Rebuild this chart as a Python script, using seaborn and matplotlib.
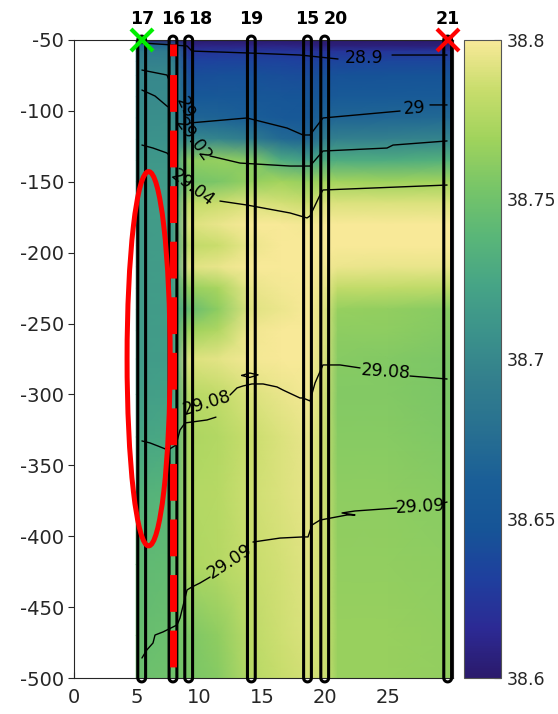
import numpy as np
import matplotlib
matplotlib.use("Agg")
import matplotlib.pyplot as plt
import matplotlib.patches as mpatches
from matplotlib.transforms import IdentityTransform, blended_transform_factory
import seaborn as sns

# ---------------------------------------------------------------- data
# along-section distance (km) of the gridded salinity columns
dist_km = [4.95, 7.88, 9.13, 11.5, 14.12, 16.5, 18.59, 19.96, 21.0, 25.0, 30.15]
# depth levels (m)
depth_m = [-50, -54, -58, -65, -75, -90, -105, -120, -135, -150, -165, -180,
           -195, -210, -225, -240, -255, -275, -300, -330, -370, -420, -470, -500]

# salinity profiles, one per column
sal_d05 = [38.600, 38.675, 38.690, 38.695, 38.700, 38.702, 38.705, 38.708, 38.712, 38.715, 38.716, 38.716,
           38.716, 38.716, 38.716, 38.716, 38.716, 38.716, 38.718, 38.724, 38.735, 38.742, 38.746, 38.748]
sal_d08 = [38.600, 38.672, 38.688, 38.694, 38.700, 38.703, 38.706, 38.709, 38.713, 38.716, 38.717, 38.717,
           38.717, 38.717, 38.717, 38.717, 38.717, 38.717, 38.720, 38.726, 38.737, 38.744, 38.748, 38.750]
sal_d09 = [38.600, 38.610, 38.622, 38.633, 38.642, 38.652, 38.668, 38.700, 38.762, 38.752, 38.782, 38.790,
           38.782, 38.792, 38.765, 38.745, 38.768, 38.790, 38.778, 38.774, 38.776, 38.774, 38.756, 38.754]
sal_d12 = [38.600, 38.610, 38.624, 38.634, 38.643, 38.653, 38.666, 38.698, 38.765, 38.755, 38.785, 38.795,
           38.785, 38.795, 38.772, 38.762, 38.775, 38.793, 38.782, 38.776, 38.778, 38.777, 38.763, 38.760]
sal_d14 = [38.600, 38.610, 38.625, 38.635, 38.644, 38.652, 38.662, 38.690, 38.760, 38.765, 38.790, 38.800,
           38.796, 38.800, 38.795, 38.792, 38.797, 38.798, 38.790, 38.785, 38.786, 38.784, 38.780, 38.778]
sal_d17 = [38.600, 38.610, 38.624, 38.634, 38.642, 38.650, 38.654, 38.672, 38.730, 38.770, 38.788, 38.800,
           38.800, 38.800, 38.798, 38.796, 38.800, 38.800, 38.795, 38.790, 38.790, 38.788, 38.786, 38.784]
sal_d19 = [38.600, 38.608, 38.622, 38.632, 38.640, 38.648, 38.652, 38.668, 38.720, 38.765, 38.785, 38.798,
           38.800, 38.800, 38.800, 38.800, 38.800, 38.800, 38.798, 38.795, 38.794, 38.792, 38.790, 38.788]
sal_d20 = [38.600, 38.606, 38.622, 38.634, 38.644, 38.654, 38.668, 38.692, 38.730, 38.770, 38.790, 38.800,
           38.800, 38.798, 38.795, 38.792, 38.792, 38.790, 38.788, 38.786, 38.786, 38.786, 38.786, 38.786]
sal_d21 = [38.600, 38.606, 38.623, 38.635, 38.645, 38.655, 38.668, 38.694, 38.730, 38.770, 38.790, 38.800,
           38.800, 38.796, 38.782, 38.765, 38.762, 38.760, 38.758, 38.760, 38.762, 38.764, 38.766, 38.766]
sal_d25 = [38.600, 38.606, 38.624, 38.636, 38.646, 38.656, 38.670, 38.695, 38.730, 38.768, 38.790, 38.800,
           38.800, 38.795, 38.782, 38.764, 38.762, 38.758, 38.758, 38.760, 38.762, 38.764, 38.766, 38.766]
sal_d30 = [38.600, 38.606, 38.624, 38.636, 38.646, 38.657, 38.672, 38.698, 38.735, 38.770, 38.790, 38.800,
           38.800, 38.795, 38.780, 38.760, 38.758, 38.755, 38.755, 38.757, 38.760, 38.762, 38.764, 38.764]

# isopycnal tracks (distance, depth); NaN leaves room for the inline labels
nan = np.nan
iso_2890_x = [5.41, 9.00, 9.39, 14.01, 17.99, 21.02, nan, 25.32, 29.70]
iso_2890_z = [-52.1, -54.2, -57.8, -59.2, -60.6, -63.4, nan, -60.6, -60.6]
iso_2900_x = [5.41, 7.40, 7.64, nan, 9.24, 13.77, 16.96, 18.23, 18.79, 19.82, 25.96, nan, 28.34, 29.70]
iso_2900_z = [-71.2, -74.7, -79.6, nan, -108.5, -105.0, -112.1, -117.0, -117.0, -105.0, -100.1, nan, -95.8, -95.8]
iso_2902_x = [5.41, 6.45, 7.40, 7.88, nan, 10.83, 13.22, 17.20, 18.79, 19.82, 24.92, 25.40, 29.70]
iso_2902_z = [-85.3, -89.5, -96.6, -99.4, nan, -131.8, -136.8, -138.9, -138.9, -128.3, -126.2, -124.1, -121.2]
iso_2904_x = [5.41, 6.29, 7.40, 7.80, nan, 11.62, 13.77, 17.20, 18.55, 18.79, 19.59, 19.82, 29.70]
iso_2904_z = [-124.1, -126.2, -129.7, -133.2, nan, -163.6, -166.4, -172.0, -175.5, -174.1, -159.3, -155.8, -152.3]
iso_2908_x = [5.41, 6.05, 6.69, 7.48, 8.12, 8.44, 8.84, 10.59, 11.30, nan, 12.42, 12.98, 13.46, 14.17, 15.05,
              16.16, 16.64, 17.99, 18.23, 18.79, 19.19, 19.82, 21.18, 22.77, nan, 26.75, 29.70]
iso_2908_z = [-332.8, -334.2, -336.4, -339.2, -335.7, -325.1, -320.1, -318.0, -316.0, nan, -300.4, -295.4, -294.0,
              -292.6, -292.6, -294.7, -296.9, -302.5, -302.5, -304.6, -291.9, -279.2, -279.2, -281.3, nan, -287.0, -289.1]
iso_2908_loop_x = [13.35, 14.0, 14.65, 14.0, 13.35]
iso_2908_loop_z = [-286.6, -284.9, -286.2, -288.0, -286.6]
iso_2909_x = [5.41, 5.79, 6.29, 6.45, 7.09, 8.20, 8.44, 8.60, 9.00, 9.39, 10.03, 10.83, nan, 14.25, 16.40, 18.23,
              18.63, 18.95, 19.59, 21.74, 22.37, 21.34, 22.37, 25.72, nan, 29.38, 29.70]
iso_2909_z = [-485.9, -480.3, -475.3, -469.7, -467.5, -462.6, -457.7, -452.0, -437.9, -435.8, -433.0, -428.8, nan,
              -404.1, -401.3, -400.5, -400.5, -392.1, -388.6, -385.0, -385.0, -383.6, -382.2, -380.1, nan, -376.6, -375.9]

# CTD stations
station_names = ["17", "16", "18", "19", "15", "20", "21"]
station_km = [5.39, 7.88, 9.13, 14.12, 18.59, 19.96, 29.75]

# axis / colour scale
xtick_vals = [0, 5, 10, 15, 20, 25]
ytick_vals = [-500, -450, -400, -350, -300, -250, -200, -150, -100, -50]
cbar_ticks = [38.6, 38.65, 38.7, 38.75, 38.8]
cbar_labels = ["38.6", "38.65", "38.7", "38.75", "38.8"]
sal_min, sal_max = 38.6, 38.8

# ---------------------------------------------------------------- style
sns.set_style("ticks")
plt.rcParams.update({
    "font.family": ["DejaVu Sans"],
    "axes.unicode_minus": False,
    "axes.edgecolor": "#262626",
    "axes.linewidth": 0.8,
})

haline = sns.blend_palette(
    ["#2b1a6c", "#2c2a94", "#1f3f9e", "#165497", "#1a5e97", "#276f91", "#327e8d",
     "#3b918b", "#46a486", "#59b678", "#77c568", "#a0d35c", "#c8dd6c", "#f8e998"],
    n_colors=256, as_cmap=True)

W, H = 558, 714
fig = plt.figure(figsize=(W / 100, H / 100), dpi=100)
ax = fig.add_axes([74 / W, 1 - 678 / H, (452.7 - 74) / W, (678 - 40) / H])
cax = fig.add_axes([464.3 / W, 1 - 678 / H, 36.4 / W, (678 - 40) / H])

# ---------------------------------------------------------------- salinity section
X, Z = np.meshgrid(dist_km, depth_m)
S = np.column_stack([sal_d05, sal_d08, sal_d09, sal_d12, sal_d14, sal_d17,
                     sal_d19, sal_d20, sal_d21, sal_d25, sal_d30])
mesh = ax.pcolormesh(X, Z, S, shading="gouraud", cmap=haline,
                     vmin=sal_min, vmax=sal_max, zorder=1)

ax.set_xlim(0, 30.15)
ax.set_ylim(-500, -50)
ax.set_xticks(xtick_vals)
ax.set_yticks(ytick_vals)
ax.tick_params(axis="y", direction="out", length=4.5, width=0.8, pad=2.5,
               labelsize=14, colors="#262626")
ax.tick_params(axis="x", direction="in", length=4.5, width=0.8, pad=7,
               labelsize=14, colors="#262626")

# ---------------------------------------------------------------- isopycnals
isopycnals = [
    (28.90, iso_2890_x, iso_2890_z),
    (29.00, iso_2900_x, iso_2900_z),
    (29.02, iso_2902_x, iso_2902_z),
    (29.04, iso_2904_x, iso_2904_z),
    (29.08, iso_2908_x, iso_2908_z),
    (29.08, iso_2908_loop_x, iso_2908_loop_z),
    (29.09, iso_2909_x, iso_2909_z),
]
for level, xs, zs in isopycnals:
    ax.plot(xs, zs, color="black", lw=1.0, zorder=3)

# inline labels: (level, x, depth, rotation)
iso_label_pos = [
    (28.90, 23.09, -62.7, 0),
    (29.00, 8.80, -97.6, -65),
    (29.00, 27.10, -98.0, 4),
    (29.02, 9.47, -120.8, -54),
    (29.04, 9.47, -154.4, -37),
    (29.08, 10.56, -306.2, 17),
    (29.08, 24.84, -284.2, -4),
    (29.09, 12.42, -417.5, 33),
    (29.09, 27.55, -378.9, 3),
]
for level, lx, lz, rot in iso_label_pos:
    ax.text(lx, lz, f"{level:g}", fontsize=12.5, color="black", rotation=rot,
            rotation_mode="anchor", ha="center", va="center", zorder=3)

# ---------------------------------------------------------------- station casts
fig.canvas.draw()
def cast_outline(x, r_px=3.9, lw=2.2):
    cx, yt = ax.transData.transform((x, -50))
    _, yb = ax.transData.transform((x, -500))
    th = np.linspace(0, np.pi, 40)
    top = np.column_stack([cx + r_px * np.cos(th), yt + r_px * np.sin(th)])
    bot = np.column_stack([cx - r_px * np.cos(th), yb - r_px * np.sin(th)])
    verts = np.vstack([top, bot, top[:1]])
    patch = mpatches.Polygon(verts, closed=True, fill=False, edgecolor="black",
                             linewidth=lw, transform=IdentityTransform(),
                             clip_on=False, zorder=4)
    ax.add_patch(patch)

for sx in station_km:
    cast_outline(sx)

# station numbers above the section
label_shift = {"18": 0.9, "20": 0.9}
trans = blended_transform_factory(ax.transData, ax.transAxes)
for name, sx in zip(station_names, station_km):
    ax.text(sx + label_shift.get(name, 0.0), 1.033, name, transform=trans,
            ha="center", va="center", fontsize=12.5, fontweight="bold",
            color="black", clip_on=False)

# highlighted cast and region
ax.plot([7.85, 7.85], [-53, -496], color="red", lw=5.0,
        linestyle=(3.6, (5.3, 2.7)), solid_capstyle="butt",
        dash_capstyle="butt", zorder=5)
ax.add_patch(mpatches.Ellipse((5.94, -274.8), 3.43, 264, fill=False,
                              edgecolor="red", lw=3.6, zorder=6, clip_on=False))

# section start / end markers
ax.plot([station_km[0]], [-50], marker="x", markersize=16.5, mew=3.0,
        color="#00ee00", clip_on=False, zorder=7)
ax.plot([station_km[-1]], [-50], marker="x", markersize=16.5, mew=3.0,
        color="#ff0000", clip_on=False, zorder=7)

# ---------------------------------------------------------------- colorbar
cb = fig.colorbar(mesh, cax=cax, ticks=cbar_ticks)
cb.set_ticklabels(cbar_labels)
cb.ax.tick_params(direction="in", length=5, width=0.8, labelsize=12.5,
                  pad=4, colors="#262626")
cb.outline.set_edgecolor("#555555")
cb.outline.set_linewidth(0.8)

fig.savefig("out.png", dpi=100)
